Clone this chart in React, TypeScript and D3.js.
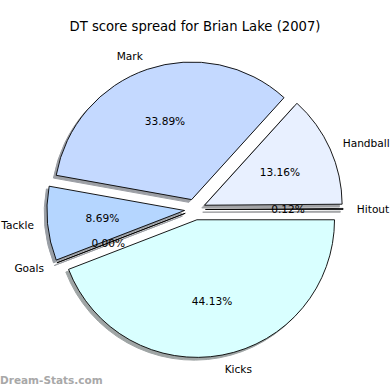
import React, { useEffect, useRef } from 'react';
import * as d3 from 'd3';

// slice data, in matplotlib order (counter-clockwise from 3 o'clock)
const labels: string[] = ['Hitout', 'Handball', 'Mark', 'Tackle', 'Goals', 'Kicks'];
const percents: number[] = [0.12, 13.16, 33.89, 8.69, 0.0, 44.13];
const colors: string[] = ['#E4ECFF', '#E8F0FF', '#C4D9FF', '#B5D6FF', '#C8E0FF', '#D9FFFF'];

const W = 390;
const H = 390;

const App: React.FC = () => {
  const svgRef = useRef<SVGSVGElement>(null);

  useEffect(() => {
    if (!svgRef.current) return;
    const svg = d3.select(svgRef.current);
    svg.selectAll('*').remove();

    const cx = 195;
    const cy = 209.5;
    const r = 137.6;
    const explode = 0.076 * r;
    const shadowOff = 0.02 * r;
    const font = 'DejaVu Sans, sans-serif';

    // d3 angles: clockwise from 12 o'clock -> go backwards to get CCW from 3 o'clock
    const pie = d3.pie<number>()
      .sort(null)
      .value(d => d)
      .startAngle(Math.PI / 2)
      .endAngle(Math.PI / 2 - 2 * Math.PI);
    const arcs = pie(percents);

    const arc = d3.arc<d3.PieArcDatum<number>>()
      .innerRadius(0)
      .outerRadius(r);

    const offsets = arcs.map(a => {
      const mid = (a.startAngle + a.endAngle) / 2;
      return { mid, dx: Math.sin(mid) * explode, dy: -Math.cos(mid) * explode };
    });

    const g = svg.append('g').attr('transform', `translate(${cx},${cy})`);

    // shadows under every wedge
    arcs.forEach((a, i) => {
      const c = d3.rgb(colors[i]);
      const sc = d3.rgb(c.r * 0.3, c.g * 0.3, c.b * 0.3).toString();
      g.append('path')
        .attr('transform', `translate(${offsets[i].dx - shadowOff},${offsets[i].dy + shadowOff})`)
        .attr('d', arc(a) as string)
        .attr('fill', sc)
        .attr('stroke', sc)
        .attr('stroke-width', 1)
        .attr('opacity', 0.5);
    });

    // wedges
    arcs.forEach((a, i) => {
      g.append('path')
        .attr('transform', `translate(${offsets[i].dx},${offsets[i].dy})`)
        .attr('d', arc(a) as string)
        .attr('fill', colors[i])
        .attr('stroke', '#000')
        .attr('stroke-width', 0.9)
        .attr('stroke-linejoin', 'round');
    });

    // outer labels
    arcs.forEach((a, i) => {
      const { mid, dx, dy } = offsets[i];
      const x = dx + Math.sin(mid) * r * 1.1;
      const y = dy - Math.cos(mid) * r * 1.1;
      g.append('text')
        .attr('x', x)
        .attr('y', y)
        .attr('text-anchor', x > 0 ? 'start' : 'end')
        .attr('dominant-baseline', 'central')
        .attr('font-family', font)
        .attr('font-size', 10.6)
        .attr('fill', '#000')
        .text(labels[i]);
    });

    // percent labels
    arcs.forEach((a, i) => {
      const { mid, dx, dy } = offsets[i];
      g.append('text')
        .attr('x', dx + Math.sin(mid) * r * 0.6)
        .attr('y', dy - Math.cos(mid) * r * 0.6)
        .attr('text-anchor', 'middle')
        .attr('dominant-baseline', 'central')
        .attr('font-family', font)
        .attr('font-size', 10.6)
        .attr('fill', '#000')
        .text(`${percents[i].toFixed(2)}%`);
    });

    svg.append('text')
      .attr('x', W / 2)
      .attr('y', 26)
      .attr('text-anchor', 'middle')
      .attr('dominant-baseline', 'central')
      .attr('font-family', font)
      .attr('font-size', 13.2)
      .attr('fill', '#000')
      .text('DT score spread for Brian Lake (2007)');

    svg.append('text')
      .attr('x', 0)
      .attr('y', 384)
      .attr('font-family', font)
      .attr('font-size', 10.5)
      .attr('font-weight', 'bold')
      .attr('fill', '#A8A8A8')
      .text('Dream-Stats.com');
  }, []);

  return (
    <svg
      ref={svgRef}
      width={W}
      height={H}
      style={{ position: 'absolute', left: 0, top: 0, background: '#fff' }}
    />
  );
};

export default App;
